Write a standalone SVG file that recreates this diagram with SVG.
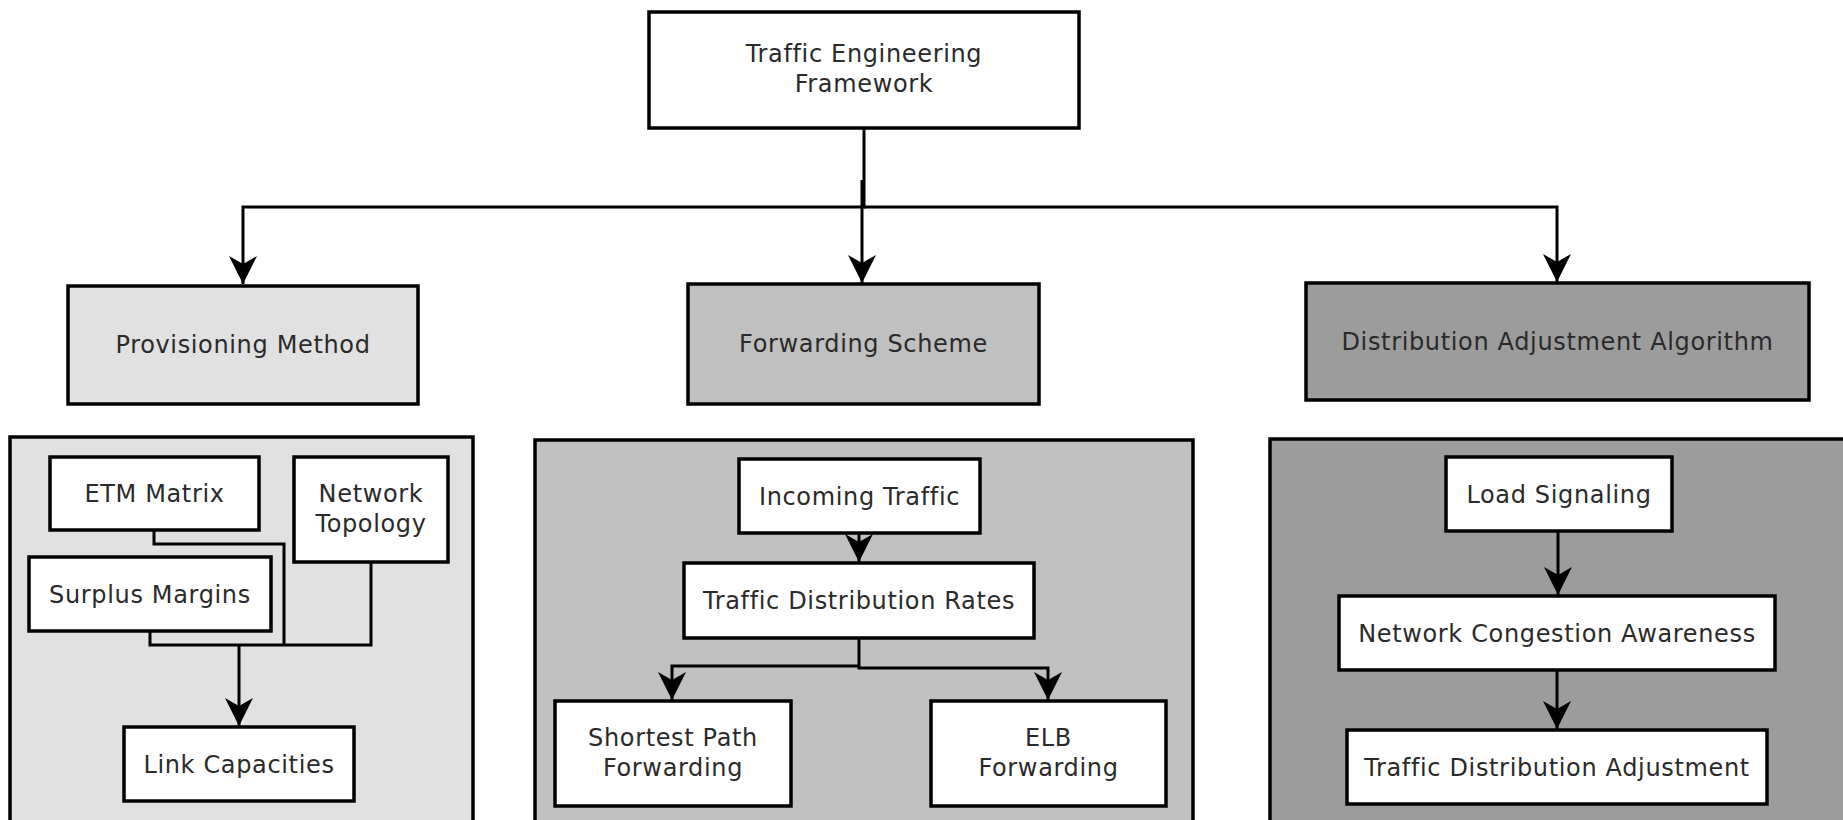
<svg xmlns="http://www.w3.org/2000/svg" width="1843" height="820" viewBox="0 0 1843 820">
<defs>
<marker id="arr" markerUnits="userSpaceOnUse" viewBox="0 0 28 28" markerWidth="28" markerHeight="28" refX="28" refY="14" orient="auto">
<path d="M0,0 L28,14 L0,28 L8,14 Z" fill="#000"/>
</marker>
<style>
.box{stroke:#000;stroke-width:3.5}
.w{fill:#fff}
.l1{fill:#e1e1e1}
.l2{fill:#c0c0c0}
.l3{fill:#9c9c9c}
text{font-family:"DejaVu Sans","Liberation Sans",sans-serif;font-size:24px;letter-spacing:0.65px;fill:#2a2a2a;text-anchor:middle}
.c{fill:none;stroke:#000;stroke-width:3}
</style>
</defs>
<rect width="1843" height="820" fill="#fff"/>
<g id="containers">
<rect class="box l1" x="10" y="437" width="463" height="420"/>
<rect class="box l2" x="535" y="440" width="658" height="420"/>
<rect class="box l3" x="1270" y="439" width="620" height="420"/>
</g>
<g id="connectors">
<path class="c" d="M864,128 V207 H243 V284" marker-end="url(#arr)"/>
<path class="c" d="M864,207 H1557 V282" marker-end="url(#arr)"/>
<path class="c" d="M862,180 V283" marker-end="url(#arr)"/>
<path class="c" d="M154,530 V544 H284 V645"/>
<path class="c" d="M150,631 V645 H371 V562"/>
<path class="c" d="M239,645 V726" marker-end="url(#arr)"/>
<path class="c" d="M859,533 V562" marker-end="url(#arr)"/>
<path class="c" d="M859,638 V666 H672 V700" marker-end="url(#arr)"/>
<path class="c" d="M859,666 V668 H1048 V700" marker-end="url(#arr)"/>
<path class="c" d="M1558,531 V595" marker-end="url(#arr)"/>
<path class="c" d="M1557,670 V729" marker-end="url(#arr)"/>
</g>
<g id="n-framework"><rect class="box w" x="649" y="12" width="430" height="116"/><text x="864" y="62">Traffic Engineering</text><text x="864" y="92">Framework</text></g>
<g id="n-provisioning"><rect class="box l1" x="68" y="286" width="350" height="118"/><text x="243" y="353">Provisioning Method</text></g>
<g id="n-forwarding"><rect class="box l2" x="688" y="284" width="351" height="120"/><text x="863.5" y="352">Forwarding Scheme</text></g>
<g id="n-distribution"><rect class="box l3" x="1306" y="283" width="503" height="117"/><text x="1557.5" y="350">Distribution Adjustment Algorithm</text></g>
<g id="n-etm"><rect class="box w" x="50" y="457" width="209" height="73"/><text x="154.5" y="502">ETM Matrix</text></g>
<g id="n-topology"><rect class="box w" x="294" y="457" width="154" height="105"/><text x="371" y="502">Network</text><text x="371" y="532">Topology</text></g>
<g id="n-surplus"><rect class="box w" x="29" y="557" width="242" height="74"/><text x="150" y="602.5">Surplus Margins</text></g>
<g id="n-link"><rect class="box w" x="124" y="727" width="230" height="74"/><text x="239" y="772.5">Link Capacities</text></g>
<g id="n-incoming"><rect class="box w" x="739" y="459" width="241" height="74"/><text x="859.5" y="504.5">Incoming Traffic</text></g>
<g id="n-tdr"><rect class="box w" x="684" y="563" width="350" height="75"/><text x="859" y="609">Traffic Distribution Rates</text></g>
<g id="n-spf"><rect class="box w" x="555" y="701" width="236" height="105"/><text x="673" y="746">Shortest Path</text><text x="673" y="776">Forwarding</text></g>
<g id="n-elb"><rect class="box w" x="931" y="701" width="235" height="105"/><text x="1048.5" y="746">ELB</text><text x="1048.5" y="776">Forwarding</text></g>
<g id="n-load"><rect class="box w" x="1446" y="457" width="226" height="74"/><text x="1559" y="502.5">Load Signaling</text></g>
<g id="n-nca"><rect class="box w" x="1339" y="596" width="436" height="74"/><text x="1557" y="641.5">Network Congestion Awareness</text></g>
<g id="n-tda"><rect class="box w" x="1347" y="730" width="420" height="74"/><text x="1557" y="775.5">Traffic Distribution Adjustment</text></g>
</svg>
